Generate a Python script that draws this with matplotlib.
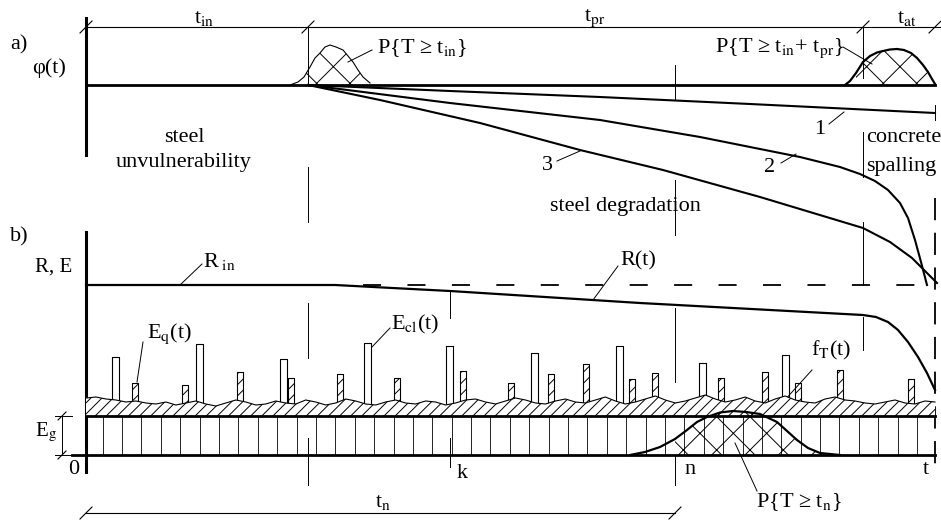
import numpy as np
import matplotlib.pyplot as plt

plt.rcParams['font.family'] = ['Liberation Serif', 'DejaVu Serif']
plt.rcParams['mathtext.fontset'] = 'stix'
plt.rcParams['hatch.linewidth'] = 0.7
plt.rcParams['hatch.color'] = 'black'
plt.rcParams['lines.scale_dashes'] = False

# time marks (drawing units along t)
t_in = 308
t_pr_end = 863
t_end = 935
t_k = 450
t_n = 675

# a) degradation curves phi(t)
curve1_t = [308, 450, 600, 750, 935]
curve1_v = [85, 91, 97, 104, 113]
curve2_t = [308, 450, 600, 700, 800, 820, 840, 860, 875, 888, 900, 908, 915, 921, 927]
curve2_v = [85, 103, 120, 137, 157, 162, 167, 174, 181, 190, 203, 218, 240, 262, 285]
curve3_t = [308, 380, 480, 580, 663, 760, 863, 890, 912, 937]
curve3_v = [85, 100, 123, 150, 170, 197, 228, 242, 258, 283]

# probability bells
bell1_t = [290, 298, 304, 310, 315, 320, 325, 330, 336, 343, 348, 353, 358, 363, 370]
bell1_h = [0, 3, 8, 18, 27, 32, 38, 40, 38, 35, 29, 23, 15, 8, 2]
bell2_t = [845, 850, 856, 863, 870, 877, 883, 890, 897, 904, 911, 917, 923, 928, 932, 935]
bell2_h = [0, 4, 12, 23, 29, 32.5, 34, 35.5, 36, 35, 32, 27, 20, 13, 6, 1]
bell3_t = [630, 645, 660, 675, 687, 697, 707, 720, 733, 746, 760, 777, 787, 797, 808, 820, 840]
bell3_h = [0, 3, 8, 16, 25, 33, 38, 42.5, 44, 43, 41, 33, 24, 15, 7, 2, 0]

# b) resistance R(t)
r_t = [86, 335, 450, 640, 863, 876, 888, 898, 908, 918, 927, 935]
r_v = [285, 285, 291, 303, 315, 317, 322, 330, 342, 357, 373, 390]

# loads: E_cl pulses (open bars) and E_q pulses (hatched bars)
ecl_t = [115.5, 200, 284, 367.5, 450, 534.5, 619.5, 703, 786]
ecl_top = [357, 344, 359, 343, 346, 353, 346, 363, 355]
eq_t = [135, 185.5, 240, 291, 340.5, 397.5, 463.5, 511.5, 551, 586, 632.5, 655,
        721.5, 765.5, 798, 840, 911]
eq_top = [383, 385, 372, 378, 374, 378, 371, 383, 374, 364, 379, 373,
          378, 372, 383, 370, 379]

# noisy band height above E_g level
noise_h = [18, 19, 17, 16, 14, 15, 13, 12, 14, 11, 13, 15, 12, 10, 13, 16, 14, 11,
           12, 15, 13, 12, 16, 14, 11, 13, 17, 15, 12, 11, 14, 16, 13, 12, 15, 14,
           11, 13, 16, 17, 14, 12, 15, 18, 16, 13, 12, 15, 17, 14, 13, 16, 19, 15,
           12, 14, 17, 20, 16, 13, 15, 18, 21, 17, 14, 16, 19, 15, 13, 17, 20, 16,
           14, 13, 17, 19, 16, 15, 13, 12, 14, 16, 13, 12, 15, 14]

fig = plt.figure(figsize=(9.41, 5.21), dpi=100)
ax = fig.add_axes([0, 0, 1, 1])
ax.set_xlim(0, 941)
ax.set_ylim(521, 0)
ax.axis('off')

K = 'black'
FS = 16


def slash(x, y, s=6):
    ax.plot([x - s, x + s], [y + s, y - s], color=K, lw=0.8)


def leader(x0, y0, x1, y1):
    ax.plot([x0, x1], [y0, y1], color=K, lw=0.7)


# ---------- panel a ----------
ax.plot([86, 86], [18, 155], color=K, lw=2.2)
ax.plot([86, 935], [85, 85], color=K, lw=2.0)
ax.plot([86, 940], [27, 27], color=K, lw=0.8)
for x in [86, t_in, t_pr_end, t_end]:
    slash(x, 27)

ax.plot(curve1_t, curve1_v, color=K, lw=1.5)
ax.plot(curve2_t, curve2_v, color=K, lw=1.5)
ax.plot(curve3_t, curve3_v, color=K, lw=1.5)

b1x = np.array(bell1_t)
b1y = 85 - np.array(bell1_h)
ax.plot(b1x, b1y, color=K, lw=0.8)
m = b1x >= 304
ax.fill_between(b1x[m], 85, b1y[m], facecolor='none', edgecolor=K, hatch='x', lw=0)

b2x = np.array(bell2_t)
b2y = 85 - np.array(bell2_h)
ax.plot(b2x, b2y, color=K, lw=1.6)
m = b2x >= 856
ax.fill_between(b2x[m], 85, b2y[m], facecolor='none', edgecolor=K, hatch='x', lw=0)

# thin marker lines
ticks = [(t_in, 27, 85), (t_in, 167, 222), (t_in, 303, 358), (t_in, 438, 485),
         (t_k, 290, 318), (t_k, 438, 467),
         (t_n, 65, 100), (t_n, 180, 235), (t_n, 308, 382), (t_n, 455, 485),
         (t_pr_end, 27, 78), (t_pr_end, 132, 177), (t_pr_end, 222, 285), (t_pr_end, 317, 350),
         (t_end, 105, 120)]
for x, y0, y1 in ticks:
    ax.plot([x, x], [y0, y1], color=K, lw=0.7)

ax.text(10, 45, 'a)', fontsize=FS, va='center', ha='left')
ax.text(32, 68, 'φ(t)', fontsize=FS, va='center', ha='left')
ax.text(204, 18, r't$_{\rm in}$', fontsize=FS, va='center', ha='center')
ax.text(595, 18, r't$_{\rm pr}$', fontsize=FS, va='center', ha='center')
ax.text(907, 18, r't$_{\rm at}$', fontsize=FS, va='center', ha='center')
ax.text(377, 48, r'P{T ≥ t$_{\rm in}$}', fontsize=FS, va='center', ha='left')
leader(348, 62, 372, 50)
ax.text(715, 48, r'P{T ≥ t$_{\rm in}$+ t$_{\rm pr}$}', fontsize=FS, va='center', ha='left')
leader(843, 47, 872, 64)
ax.text(184, 137, 'steel', fontsize=FS, va='center', ha='center')
ax.text(184, 162, 'unvulnerability', fontsize=FS, va='center', ha='center')
ax.text(866, 138, 'concrete', fontsize=FS, va='center', ha='left')
ax.text(866, 166, 'spalling', fontsize=FS, va='center', ha='left')
ax.text(550, 207, 'steel degradation', fontsize=FS, va='center', ha='left')
ax.text(820, 130, '1', fontsize=FS, va='center', ha='center')
leader(829, 124, 844, 112)
ax.text(770, 167, '2', fontsize=FS, va='center', ha='center')
leader(781, 163, 796, 154)
ax.text(547, 165, '3', fontsize=FS, va='center', ha='center')
leader(557, 161, 580, 151)

# ---------- panel b ----------
ax.plot([86, 86], [232, 472], color=K, lw=2.2)
ax.plot(r_t, r_v, color=K, lw=1.6)
ax.plot([363, 935], [285, 285], color=K, lw=1.3, ls=(0, (13, 19)))
ax.plot([t_end, t_end], [198, 472], color=K, lw=1.3, ls=(0, (16, 9)))

# load pulses
for x, top in zip(ecl_t, ecl_top):
    ax.fill_between([x - 3.5, x + 3.5], 416, top, facecolor='white', edgecolor=K,
                    lw=0.8, zorder=2)
for x, top in zip(eq_t, eq_top):
    ax.fill_between([x - 3, x + 3], 416, top, facecolor='white', edgecolor=K,
                    hatch='///', lw=0.8, zorder=2)

# noisy band
nx = np.linspace(86, 935, len(noise_h))
ny = 416 - np.array(noise_h)
ax.fill_between(nx, 416, ny, facecolor='white', edgecolor=K, hatch='///', lw=0, zorder=3)
ax.plot(nx, ny, color=K, lw=0.8, zorder=3.5)

# E_g strip
ax.plot([86, 935], [416, 416], color=K, lw=2.0, zorder=4)
ax.plot([72, 935], [455, 455], color=K, lw=2.0, zorder=4)
for x in np.linspace(102.7, 917, 43):
    ax.plot([x, x], [416, 455], color=K, lw=0.6, zorder=1)

b3x = np.array(bell3_t)
b3y = 455 - np.array(bell3_h)
ax.plot(b3x, b3y, color=K, lw=1.6, zorder=5)
m = b3x >= t_n
ax.fill_between(b3x[m], 455, b3y[m], facecolor='none', edgecolor=K, hatch='x', lw=0, zorder=5)

# E_g dimension
ax.plot([62, 62], [416, 455], color=K, lw=0.7)
ax.plot([55, 72], [416, 416], color=K, lw=0.7)
ax.plot([55, 72], [455, 455], color=K, lw=0.7)
slash(62, 416, 4)
slash(62, 455, 4)

# t_n dimension
ax.plot([86, t_n], [513, 513], color=K, lw=0.8)
slash(86, 513)
slash(t_n, 513)

ax.text(10, 237, 'b)', fontsize=FS, va='center', ha='left')
ax.text(35, 267, 'R, E', fontsize=15, va='center', ha='left')
ax.text(203, 262, r'R$_{\rm \ in}$', fontsize=FS, va='center', ha='left')
leader(180, 285, 202, 264)
ax.text(620, 261, 'R(t)', fontsize=FS, va='center', ha='left')
leader(593, 300, 618, 266)
ax.text(147, 334, r'E$_{\rm q}$(t)', fontsize=FS, va='center', ha='left')
leader(143, 342, 137, 382)
ax.text(391, 324, r'E$_{\rm cl}$(t)', fontsize=FS, va='center', ha='left')
leader(390, 328, 372, 347)
ax.text(811, 350, r'f$_{\rm T}$(t)', fontsize=FS, va='center', ha='left')
leader(812, 370, 783, 402)
ax.text(35, 432, r'E$_{\rm g}$', fontsize=15, va='center', ha='left')
ax.text(74, 469, '0', fontsize=FS, va='center', ha='center')
ax.text(462, 474, 'k', fontsize=FS, va='center', ha='center')
ax.text(690, 469, 'n', fontsize=FS, va='center', ha='center')
ax.text(926, 469, 't', fontsize=FS, va='center', ha='center')
ax.text(799, 502, r'P{T ≥ t$_{\rm n}$}', fontsize=FS, va='center', ha='center')
leader(757, 491, 735, 443)
ax.text(383, 502, r't$_{\rm n}$', fontsize=FS, va='center', ha='center')

fig.savefig('out.png', dpi=100)
